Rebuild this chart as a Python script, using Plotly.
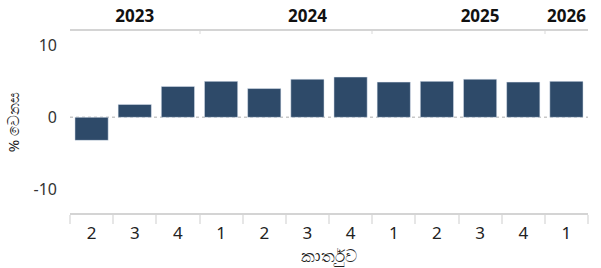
import plotly.graph_objects as go

quarters = ["2", "3", "4", "1", "2", "3", "4", "1", "2", "3", "4", "1"]
values = [-3.2, 1.8, 4.3, 5.0, 4.0, 5.3, 5.6, 4.9, 5.0, 5.3, 4.9, 5.0]
years = ["2023", "2024", "2025", "2026"]
year_centers = [1, 5, 9, 11]
year_bounds = [2.5, 6.5, 10.5]

x = list(range(len(values)))
bar_color = "#2E4A69"
font_family = "Noto Sans, Open Sans, sans-serif"

fig = go.Figure()
fig.add_trace(go.Bar(x=x, y=values, marker_color=bar_color, width=0.77,
                     showlegend=False, hoverinfo="skip"))
fig.add_trace(go.Scatter(x=[0], y=[0], xaxis="x2", mode="markers",
                         marker=dict(opacity=0), showlegend=False, hoverinfo="skip"))

fig.add_hline(y=0, line=dict(color="#c8c8c8", width=1.5, dash="dot"), layer="below")

fig.update_layout(
    width=601, height=268,
    margin=dict(l=70, r=13, t=31, b=55, autoexpand=False),
    plot_bgcolor="white", paper_bgcolor="white",
    font=dict(family=font_family, color="#222"),
    bargap=0.2,
    xaxis=dict(
        range=[-0.5, 11.5], automargin=False,
        tickmode="array", tickvals=x, ticktext=quarters,
        ticks="", showgrid=False, zeroline=False,
        showline=True, linecolor="#d4d4d4", linewidth=1.5,
        ticklabelstandoff=4,
        tickfont=dict(size=17, color="#222"),
        minor=dict(tickmode="array", tickvals=[i + 0.5 for i in range(-1, 12)],
                   ticks="outside", ticklen=9, tickcolor="#e6e6e6", tickwidth=1.5,
                   showgrid=False),
        title=dict(text="කාර්තුව", font=dict(size=17, color="#222"), standoff=0),
    ),
    xaxis2=dict(
        overlaying="x", side="top", range=[-0.5, 11.5], automargin=False,
        tickmode="array", tickvals=year_centers, ticktext=years,
        ticks="", showgrid=False, zeroline=False,
        showline=True, linecolor="#d4d4d4", linewidth=1.5,
        tickfont=dict(size=17, color="#111", family="Open Sans, sans-serif", weight="bold"),
        minor=dict(tickmode="array", tickvals=year_bounds,
                   ticks="inside", ticklen=3, tickcolor="#ececec", tickwidth=1.5,
                   showgrid=False),
    ),
    yaxis=dict(
        range=[-13.3, 12], automargin=False,
        tickmode="array", tickvals=[-10, 0, 10], ticktext=["-10", "0", "10"],
        showgrid=False, zeroline=False, showline=False,
        ticks="", ticklabelstandoff=12,
        tickfont=dict(size=16, color="#333"),
        title=dict(text="% වෙනස", font=dict(size=15, color="#222"), standoff=10),
    ),
)

fig.write_html("out.html", config={"displayModeBar": False},
               post_script="document.body.style.margin='0';document.body.style.overflow='hidden';")
